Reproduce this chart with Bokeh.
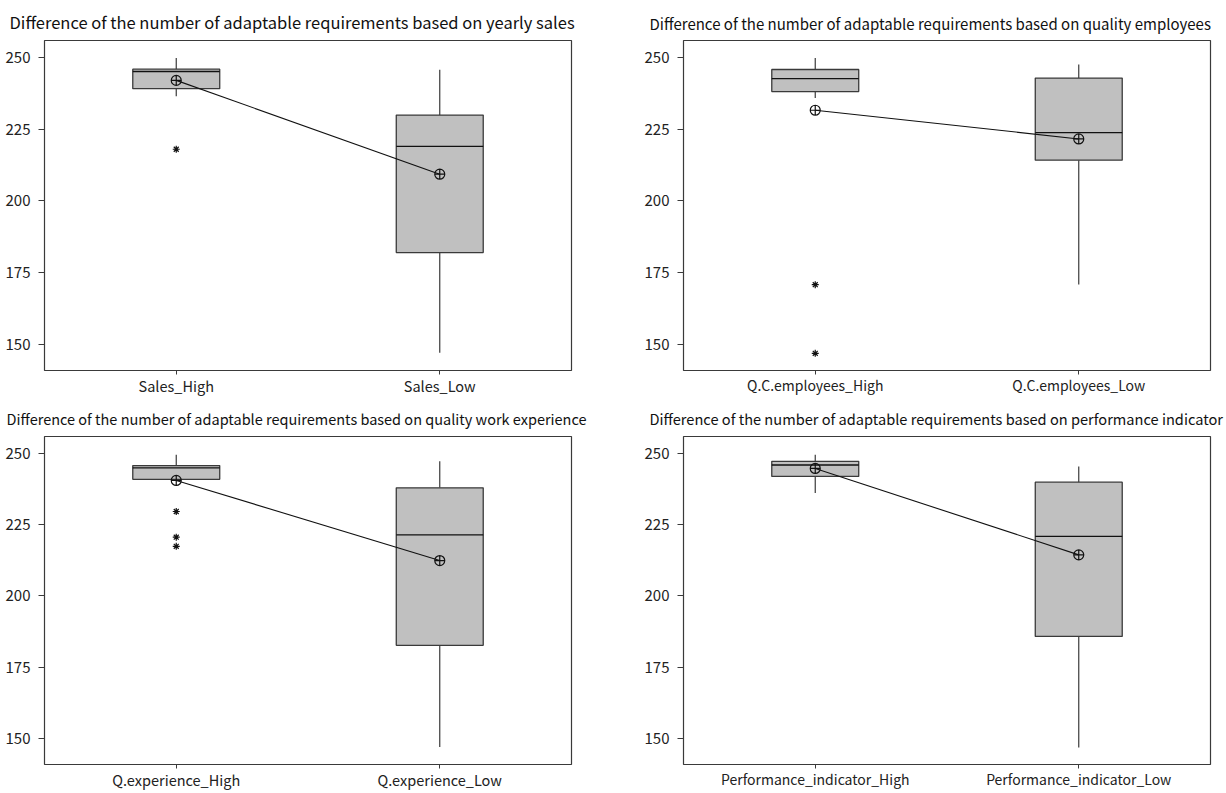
from bokeh.plotting import figure
from bokeh.layouts import column, row
from bokeh.models import FactorRange, Range1d, FixedTicker
from bokeh.embed import file_html
from bokeh.resources import INLINE

# ---------------- data ----------------
titles = [
    "Difference of the number of adaptable requirements based on yearly sales",
    "Difference of the number of adaptable requirements based on quality employees",
    "Difference of the number of adaptable requirements based on quality work experience",
    "Difference of the number of adaptable requirements based on performance indicator",
]

sales_cats = ["Sales_High", "Sales_Low"]
sales_whisker_low = [236.5, 147.1]
sales_q1 = [239.1, 182.0]
sales_median = [245.1, 219.0]
sales_q3 = [245.9, 229.9]
sales_whisker_high = [249.8, 245.7]
sales_mean = [242.0, 209.3]
sales_outlier_cat = ["Sales_High"]
sales_outlier_val = [218.0]

qc_cats = ["Q.C.employees_High", "Q.C.employees_Low"]
qc_whisker_low = [235.9, 170.9]
qc_q1 = [238.1, 214.2]
qc_median = [242.6, 223.8]
qc_q3 = [245.8, 242.8]
qc_whisker_high = [249.8, 247.5]
qc_mean = [231.6, 221.6]
qc_outlier_cat = ["Q.C.employees_High", "Q.C.employees_High"]
qc_outlier_val = [170.8, 146.9]

exp_cats = ["Q.experience_High", "Q.experience_Low"]
exp_whisker_low = [240.9, 147.0]
exp_q1 = [240.9, 182.7]
exp_median = [244.9, 221.4]
exp_q3 = [245.7, 237.9]
exp_whisker_high = [249.5, 247.2]
exp_mean = [240.5, 212.4]
exp_outlier_cat = ["Q.experience_High", "Q.experience_High", "Q.experience_High"]
exp_outlier_val = [229.6, 220.6, 217.4]

perf_cats = ["Performance_indicator_High", "Performance_indicator_Low"]
perf_whisker_low = [236.1, 146.9]
perf_q1 = [241.9, 185.8]
perf_median = [245.9, 220.9]
perf_q3 = [247.2, 239.9]
perf_whisker_high = [249.5, 245.4]
perf_mean = [244.7, 214.4]
perf_outlier_cat = []
perf_outlier_val = []

y_ticks = [150, 175, 200, 225, 250]
y_lo, y_hi = 140.9, 255.9

FONT = "Noto Sans CJK KR"
EDGE = "#3a3a3a"


def panel(title, cats, wl, q1, med, q3, wh, mean, oc, ov,
          width, height, bl, br, bt, bb, title_offset, title_size,
          title_standoff, xlabel_size):
    p = figure(x_range=FactorRange(*cats, range_padding=0),
               y_range=Range1d(y_lo, y_hi),
               width=width, height=height,
               output_backend="svg", toolbar_location=None,
               min_border_left=bl, min_border_right=br,
               min_border_top=bt, min_border_bottom=bb)
    p.title.text = title
    p.title.align = "left"
    p.title.offset = title_offset
    p.title.standoff = title_standoff
    p.title.text_font = FONT
    p.title.text_font_style = "normal"
    p.title.text_font_size = title_size
    p.title.text_color = "#111111"

    p.xgrid.visible = False
    p.ygrid.visible = False
    p.background_fill_color = "white"
    p.border_fill_color = "white"
    p.outline_line_color = EDGE
    p.outline_line_width = 1.2
    p.outline_line_alpha = 1

    # whiskers
    p.segment(x0=cats, y0=q3, x1=cats, y1=wh, line_color=EDGE, line_width=1.2)
    p.segment(x0=cats, y0=wl, x1=cats, y1=q1, line_color=EDGE, line_width=1.2)
    # boxes
    p.vbar(x=cats, width=0.33, bottom=q1, top=q3,
           fill_color="#c0c0c0", line_color=EDGE, line_width=1.3)
    # medians
    p.vbar(x=cats, width=0.33, bottom=med, top=med,
           fill_color=None, line_color="#111111", line_width=1.3)
    # mean connect line and markers
    p.line(x=cats, y=mean, line_color="#111111", line_width=1.1)
    p.scatter(x=cats, y=mean, marker="circle_cross", size=10,
              fill_color=None, line_color="#111111", line_width=1.2)
    # outliers
    if len(ov):
        p.scatter(x=oc, y=ov, marker="asterisk", size=7,
                  line_color="#111111", line_width=1.2)

    p.yaxis.ticker = FixedTicker(ticks=y_ticks)
    p.yaxis.minor_tick_line_color = None
    p.yaxis.major_tick_in = 0
    p.yaxis.major_tick_out = 6
    p.yaxis.axis_line_color = None
    p.yaxis.major_tick_line_color = EDGE
    p.yaxis.major_label_standoff = 8
    p.yaxis.major_label_text_font = FONT
    p.yaxis.major_label_text_font_size = "15px"
    p.yaxis.major_label_text_color = "#222222"

    p.xaxis.major_tick_in = 0
    p.xaxis.major_tick_out = 4
    p.xaxis.axis_line_color = None
    p.xaxis.major_tick_line_color = EDGE
    p.xaxis.major_label_standoff = 0
    p.xaxis.major_label_text_font = FONT
    p.xaxis.major_label_text_font_size = xlabel_size
    p.xaxis.major_label_text_color = "#222222"
    return p


p1 = panel(titles[0], sales_cats, sales_whisker_low, sales_q1, sales_median,
           sales_q3, sales_whisker_high, sales_mean, sales_outlier_cat,
           sales_outlier_val, 620, 398, 44, 49, 39, 28, -35, "16.5px", 14,
           "14.5px")
p2 = panel(titles[1], qc_cats, qc_whisker_low, qc_q1, qc_median,
           qc_q3, qc_whisker_high, qc_mean, qc_outlier_cat,
           qc_outlier_val, 604, 398, 63, 14, 39, 28, -34, "15px", 14,
           "14px")
p3 = panel(titles[2], exp_cats, exp_whisker_low, exp_q1, exp_median,
           exp_q3, exp_whisker_high, exp_mean, exp_outlier_cat,
           exp_outlier_val, 620, 395, 44, 49, 36, 29, -38, "14.5px", 15,
           "14.5px")
p4 = panel(titles[3], perf_cats, perf_whisker_low, perf_q1, perf_median,
           perf_q3, perf_whisker_high, perf_mean, perf_outlier_cat,
           perf_outlier_val, 604, 395, 63, 14, 36, 29, -34, "14.6px", 15,
           "14px")

layout = column(row(p1, p2), row(p3, p4))
open("out.html", "w").write(file_html(layout, INLINE))
